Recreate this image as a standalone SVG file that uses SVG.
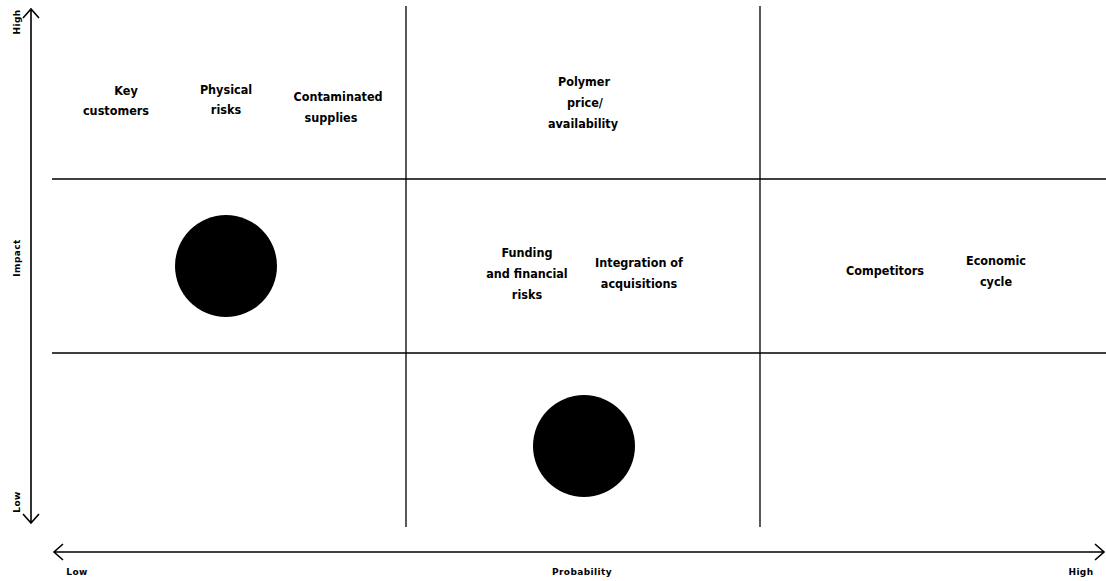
<svg xmlns="http://www.w3.org/2000/svg" width="1106" height="581" viewBox="0 0 1106 581">
<style>
.ln{stroke:#000;stroke-width:1.3;fill:none}
.ax{stroke:#000;stroke-width:1.6;fill:none}
.t{font-family:"DejaVu Sans Condensed","Liberation Sans Narrow","Liberation Sans",sans-serif;font-weight:bold;font-size:12.5px;text-anchor:middle;fill:#000}
.s{font-family:"DejaVu Sans","Liberation Sans",sans-serif;font-weight:bold;font-size:9px;text-anchor:middle;fill:#000;letter-spacing:0.4px}
</style>
<rect width="1106" height="581" fill="#fff"/>
<g id="axes">
<path class="ax" d="M31 9 V523 M23 18 L31 9 L39 18 M23 514 L31 523 L39 514"/>
<path class="ax" d="M54 552 H1104 M63 544 L54 552 L63 560 M1095 544 L1104 552 L1095 560"/>
<text class="s" transform="translate(20,22) rotate(-90)">High</text>
<text class="s" transform="translate(20,258) rotate(-90)">Impact</text>
<text class="s" transform="translate(20,502) rotate(-90)">Low</text>
<text class="s" x="77" y="575">Low</text>
<text class="s" x="582" y="575">Probability</text>
<text class="s" x="1081" y="575">High</text>
</g>
<g id="connectors">
<path class="ln" d="M406 6 V527 M760 6 V527 M52 179 H1106 M52 353 H1106"/>
</g>
<g id="key-customers"><text class="t" x="126" y="95">Key</text><text class="t" x="116" y="115">customers</text></g>
<g id="physical-risks"><text class="t" x="226" y="94">Physical</text><text class="t" x="226" y="114">risks</text></g>
<g id="contaminated-supplies"><text class="t" x="338" y="101">Contaminated</text><text class="t" x="331" y="122">supplies</text></g>
<g id="polymer"><text class="t" x="584" y="86">Polymer</text><text class="t" x="585" y="107">price/</text><text class="t" x="583" y="128">availability</text></g>
<g id="funding"><text class="t" x="527" y="257">Funding</text><text class="t" x="527" y="278">and financial</text><text class="t" x="527" y="299">risks</text></g>
<g id="integration"><text class="t" x="639" y="267">Integration of</text><text class="t" x="639" y="288">acquisitions</text></g>
<g id="competitors"><text class="t" x="885" y="275">Competitors</text></g>
<g id="economic-cycle"><text class="t" x="996" y="265">Economic</text><text class="t" x="996" y="286">cycle</text></g>
<g id="circle-1"><circle cx="226" cy="266" r="51" fill="#000"/></g>
<g id="circle-2"><circle cx="584" cy="446" r="51" fill="#000"/></g>
</svg>
